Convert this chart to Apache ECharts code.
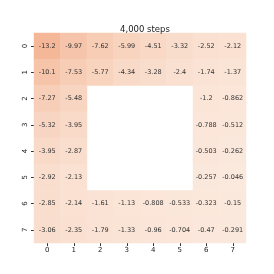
<!DOCTYPE html>
<html><head><meta charset="utf-8">
<script src="https://cdn.jsdelivr.net/npm/echarts@6/dist/echarts.min.js"></script>
<style>html,body{margin:0;padding:0;background:#fff}#c{width:274px;height:274px}</style>
</head><body><div id="c"></div>
<script>
const xCats = ['0','1','2','3','4','5','6','7'];
const yCats = ['0','1','2','3','4','5','6','7'];
const title = '4,000 steps';
const row0 = [-13.2, -9.97, -7.62, -5.99, -4.51, -3.32, -2.52, -2.12];
const row1 = [-10.1, -7.53, -5.77, -4.34, -3.28, -2.4, -1.74, -1.37];
const row2 = [-7.27, -5.48, null, null, null, null, -1.2, -0.862];
const row3 = [-5.32, -3.95, null, null, null, null, -0.788, -0.512];
const row4 = [-3.95, -2.87, null, null, null, null, -0.503, -0.262];
const row5 = [-2.92, -2.13, null, null, null, null, -0.257, -0.046];
const row6 = [-2.85, -2.14, -1.61, -1.13, -0.808, -0.533, -0.323, -0.15];
const row7 = [-3.06, -2.35, -1.79, -1.33, -0.96, -0.704, -0.47, -0.291];
const rows = [row0,row1,row2,row3,row4,row5,row6,row7];
const data = [];
rows.forEach((r,yi)=>r.forEach((v,xi)=>{ if(v!==null) data.push([xi,yi,v]); }));
const chart = echarts.init(document.getElementById('c'));
const font = 'DejaVu Sans';
chart.setOption({
  animation:false,
  title:{text:title,left:140,textAlign:'center',top:20,textStyle:{fontSize:8.5,fontWeight:'normal',color:'#222',fontFamily:font}},
  grid:{left:34,top:33,width:212,height:210},
  xAxis:{type:'category',data:xCats,axisLine:{show:false},splitLine:{show:false},
    axisTick:{show:true,alignWithLabel:true,length:3,lineStyle:{color:'#333'}},
    axisLabel:{fontSize:7,color:'#222',margin:4,fontFamily:font}},
  yAxis:{type:'category',data:yCats,inverse:true,axisLine:{show:false},splitLine:{show:false},
    axisTick:{show:true,alignWithLabel:true,length:3,lineStyle:{color:'#333'}},
    axisLabel:{fontSize:7,color:'#222',margin:5,rotate:90,fontFamily:font}},
  visualMap:{show:false,min:-13.2,max:0,dimension:2,
    inRange:{color:['#f4b899','#fbe9dd']}},
  series:[{type:'heatmap',data:data,
    label:{show:true,fontSize:6.5,color:'#333',fontFamily:font,formatter:p=>String(p.value[2])},
    itemStyle:{borderWidth:0}}]
});
</script></body></html>
